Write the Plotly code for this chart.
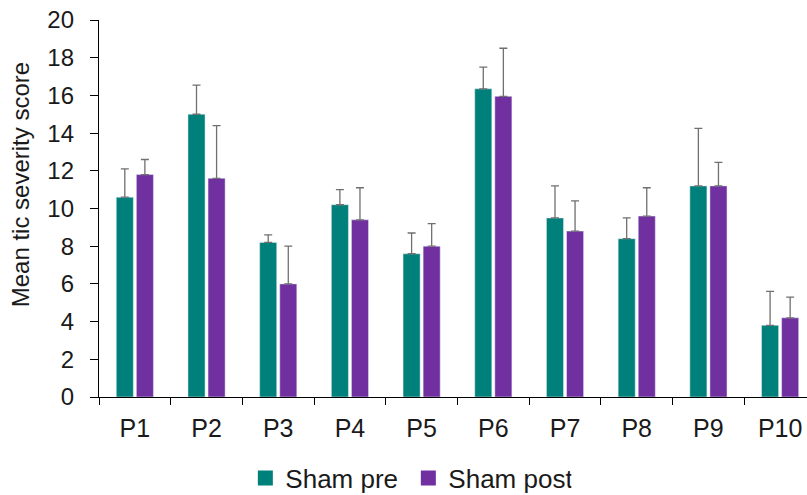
import plotly.graph_objects as go

# Participants and mean tic severity scores (sham condition)
participants = ["P1", "P2", "P3", "P4", "P5", "P6", "P7", "P8", "P9", "P10"]
sham_pre = [10.6, 15.0, 8.2, 10.2, 7.6, 16.35, 9.5, 8.4, 11.2, 3.8]
sham_pre_err = [1.5, 1.55, 0.4, 0.8, 1.1, 1.15, 1.7, 1.1, 3.05, 1.8]
sham_post = [11.8, 11.6, 6.0, 9.4, 8.0, 15.95, 8.8, 9.6, 11.2, 4.2]
sham_post_err = [0.8, 2.8, 2.0, 1.7, 1.2, 2.55, 1.6, 1.5, 1.25, 1.1]

y_ticks = [0, 2, 4, 6, 8, 10, 12, 14, 16, 18, 20]

TEAL = "#00807A"
PURPLE = "#7030A0"
ERR_COLOR = "#707070"
FONT = "Liberation Sans, Arial, sans-serif"

fig = go.Figure()
for name, vals, errs, col in [("Sham pre", sham_pre, sham_pre_err, TEAL),
                              ("Sham post", sham_post, sham_post_err, PURPLE)]:
    fig.add_trace(go.Bar(
        name=name, x=participants, y=vals, marker_color=col, showlegend=False,
        error_y=dict(type="data", array=errs, symmetric=False,
                     arrayminus=[0] * len(errs),
                     color=ERR_COLOR, thickness=1.3, width=4),
    ))
    # legend key: square swatch in the series colour
    fig.add_trace(go.Scatter(
        name=name, x=[None], y=[None], mode="markers",
        marker=dict(symbol="square", size=15, color=col),
        showlegend=True, hoverinfo="skip",
    ))

fig.update_layout(
    width=807, height=495,
    margin=dict(l=99, r=0, t=20, b=98),
    paper_bgcolor="white", plot_bgcolor="white",
    barmode="group", bargap=0.44, bargroupgap=0.15,
    font=dict(family=FONT, size=24, color="#1a1a1a"),
    showlegend=True,
    legend=dict(orientation="h", xref="container", x=0.506, xanchor="center",
                yref="container", y=1 - 478 / 495, yanchor="middle",
                font=dict(size=26), itemwidth=30, traceorder="normal",
                entrywidth=118, entrywidthmode="pixels"),
    annotations=[dict(
        text="Mean tic severity score", textangle=-90,
        xref="paper", yref="paper", x=-0.111, y=(397.3 - 185) / 377.3,
        xanchor="center", yanchor="middle", showarrow=False,
        font=dict(size=24),
    )],
)
fig.update_xaxes(
    range=[-0.5, 9.375], showline=True, linecolor="black", linewidth=1.3,
    ticks="outside", tickson="boundaries", ticklen=7, tickcolor="black",
    tickwidth=1.3, showgrid=False, tickfont=dict(size=25),
    ticklabelstandoff=9,
)
fig.update_yaxes(
    range=[0, 20], tickvals=y_ticks, showline=True, linecolor="black",
    linewidth=1.3, ticks="outside", ticklen=8, tickcolor="black",
    tickwidth=1.3, showgrid=False, zeroline=False, tickfont=dict(size=24),
    ticklabelstandoff=11,
)

fig.write_html("out.html")
